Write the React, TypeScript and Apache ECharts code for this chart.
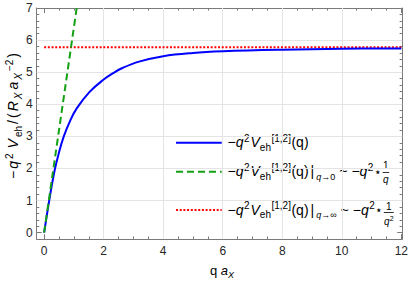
import React, { useEffect, useRef } from "react";
import * as echarts from "echarts";

// ---- data ----
const blueQ = [0, 0.17, 0.35, 0.49, 0.66, 0.88, 1.1, 1.52, 2.0, 2.32, 2.63, 3.19, 4.0, 5.0, 6.0, 8.0, 10.0, 12.0];
const blueV = [0, 1.0, 1.93, 2.47, 3.0, 3.5, 3.88, 4.38, 4.77, 4.97, 5.13, 5.33, 5.5, 5.6, 5.65, 5.7, 5.73, 5.74];
const greenQ = [0, 1.094];
const greenV = [0, 7];
const redQ = [0, 12];
const redV = [5.78, 5.78];
const xTicks = [0, 2, 4, 6, 8, 10, 12];
const yTicks = [0, 1, 2, 3, 4, 5, 6, 7];
const xGrid = [2, 4, 6, 8, 10];
const yGrid = [1, 2, 3, 4, 5, 6];

const XMIN = -0.25;
const XMAX = 12.03;
const YMIN = -0.2;
const YMAX = 7;

const FONT = '"Liberation Sans", Arial, sans-serif';
const FRAME = "#7a7a7a";
const LABEL = "#262626";
const BLUE = "#0000ff";
const GREEN = "#13a013";
const RED = "#ff0000";

const xMinor: number[] = [];
for (let i = 0; i < xTicks.length - 1; i++) {
  for (let k = 1; k < 4; k++) xMinor.push(xTicks[i] + (k * (xTicks[i + 1] - xTicks[i])) / 4);
}
const yMinor: number[] = [];
for (let i = 0; i < yTicks.length - 1; i++) {
  for (let k = 1; k < 5; k++) yMinor.push(+(yTicks[i] + (k * (yTicks[i + 1] - yTicks[i])) / 5).toFixed(2));
}

let mctx: CanvasRenderingContext2D | null = null;
function measure(t: string, s: number, it?: boolean) {
  if (!mctx) mctx = document.createElement("canvas").getContext("2d");
  if (!mctx) return t.length * s * 0.55;
  mctx.font = `${it ? "italic " : ""}${s}px ${FONT}`;
  return mctx.measureText(t).width;
}

type Piece = { t: string; s: number; it?: boolean; dy?: number; gap?: number };

function textEl(x: number, y: number, p: Piece, color: string, rotation = 0) {
  return {
    type: "text",
    x,
    y,
    rotation,
    silent: true,
    style: {
      text: p.t,
      fontSize: p.s,
      fontFamily: FONT,
      fontStyle: p.it ? "italic" : "normal",
      fill: color,
      align: "left",
      verticalAlign: "middle",
    },
  };
}

function layout(pieces: Piece[], x0: number, base: number, color = "#000") {
  const els: any[] = [];
  let x = x0;
  for (const p of pieces) {
    x += p.gap || 0;
    els.push(textEl(x, base + (p.dy || 0) - 0.347 * p.s, p, color));
    x += measure(p.t, p.s, p.it);
  }
  return { els, end: x, width: x - x0 };
}

function piecesWidth(pieces: Piece[]) {
  return pieces.reduce((a, p) => a + (p.gap || 0) + measure(p.t, p.s, p.it), 0);
}

// vertical text reading bottom-to-top, centred on (bx, cy); bx is the baseline's screen x
function layoutVertical(pieces: Piece[], bx: number, cy: number, length: number, color = "#000") {
  const natural = piecesWidth(pieces);
  const extra = pieces.length > 1 ? Math.max(0, length - natural) / (pieces.length - 1) : 0;
  const els: any[] = [];
  let lx = -Math.max(natural, length) / 2;
  pieces.forEach((p, i) => {
    if (i > 0) lx += extra;
    lx += p.gap || 0;
    const ly = (p.dy || 0) - 0.347 * p.s;
    els.push(textEl(bx + ly, cy - lx, p, color, Math.PI / 2));
    lx += measure(p.t, p.s, p.it);
  });
  return els;
}

function fraction(cx: number, numBase: number, bar: number, denBase: number, den: Piece[], barW: number) {
  const els: any[] = [];
  els.push({
    type: "text",
    x: cx,
    y: numBase - 0.347 * 10,
    silent: true,
    style: { text: "1", fontSize: 10, fontFamily: FONT, fill: "#000", align: "center", verticalAlign: "middle" },
  });
  els.push({
    type: "line",
    silent: true,
    shape: { x1: cx - barW / 2, y1: bar, x2: cx + barW / 2, y2: bar },
    style: { stroke: "#000", lineWidth: 0.8 },
  });
  const w = piecesWidth(den);
  els.push(...layout(den, cx - w / 2, denBase).els);
  return els;
}

const S = 14;
const s = 10;
const SUP = -5.5;
const SUB = 3.5;

const mainExpr: Piece[] = [
  { t: "−", s: S },
  { t: "q", s: S, it: true },
  { t: "2", s: s, dy: SUP, gap: 0.5 },
  { t: "V", s: S, it: true, gap: 1 },
  { t: "eh", s: s, dy: SUB },
  { t: "[1,2]", s: s, dy: SUP, gap: 0.5 },
  { t: "(q)", s: S, gap: 0.5 },
];

function limitRow(lim: string): Piece[] {
  return [
    ...mainExpr,
    { t: "|", s: S, gap: 2 },
    { t: "q", s: 9, it: true, dy: 4, gap: 2 },
    { t: lim, s: 9, dy: 4 },
    { t: "~", s: S, gap: 4 },
    { t: "−", s: S, gap: 4 },
    { t: "q", s: S, it: true },
    { t: "2", s: s, dy: SUP, gap: 0.5 },
    { t: "⋆", s: 12, gap: 0.5, dy: -0.5 },
  ];
}

const LEG_X0 = 176;
const LEG_X1 = 221.7;
const TXT_X = 227.5;
const ROW_Y = [142.7, 171.7, 210];

function buildGraphics() {
  const g: any[] = [];
  const sample = (y: number, stroke: string, dash: any) => ({
    type: "line",
    silent: true,
    shape: { x1: LEG_X0, y1: y, x2: LEG_X1, y2: y },
    style: { stroke, lineWidth: 2, lineDash: dash },
  });
  g.push(sample(ROW_Y[0], BLUE, null));
  g.push(sample(ROW_Y[1], GREEN, [7, 4]));
  g.push(sample(ROW_Y[2], RED, [2, 1.7]));

  g.push(...layout(mainExpr, TXT_X, ROW_Y[0] + 4.5).els);
  const r2 = layout(limitRow("→0"), TXT_X, ROW_Y[1] + 4.5);
  g.push(...r2.els);
  const c2 = r2.end + 4;
  g.push(...fraction(c2, ROW_Y[1] - 2.5, ROW_Y[1] + 0.8, ROW_Y[1] + 11, [{ t: "q", s: 10, it: true }], 6.5));
  const r3 = layout(limitRow("→∞"), TXT_X, ROW_Y[2] + 4.5);
  g.push(...r3.els);
  const c3 = r3.end + 5.5;
  g.push(
    ...fraction(c3, ROW_Y[2] - 0.5, ROW_Y[2] + 2.5, ROW_Y[2] + 14.5, [
      { t: "q", s: 10, it: true },
      { t: "2", s: 7, dy: -4 },
    ], 10)
  );

  // x axis title
  const xt: Piece[] = [
    { t: "q", s: 13 },
    { t: "a", s: 13, it: true, gap: 3.5 },
    { t: "X", s: 9, it: true, dy: 3 },
  ];
  const xw = piecesWidth(xt);
  g.push(...layout(xt, 222 - xw / 2, 275.5).els);

  // y axis title (vertical, bottom-to-top)
  const yt: Piece[] = [
    { t: "−", s: 14 },
    { t: "q", s: 14, it: true },
    { t: "2", s: 10, dy: -5.5 },
    { t: "V", s: 14, it: true, gap: 3 },
    { t: "eh", s: 10, dy: 3.5 },
    { t: "/", s: 14 },
    { t: "(", s: 14 },
    { t: "R", s: 14, it: true },
    { t: "X", s: 10, it: true, dy: 3.5 },
    { t: "a", s: 14, it: true, gap: 1 },
    { t: "X", s: 10, it: true, dy: 3.5 },
    { t: "−2", s: 10, dy: -5.5 },
    { t: ")", s: 14 },
  ];
  g.push(...layoutVertical(yt, 18, 116, 126));
  return g;
}

function zip(a: number[], b: number[]) {
  return a.map((v, i) => [v, b[i]]);
}

export default function App() {
  const ref = useRef<HTMLDivElement>(null);
  useEffect(() => {
    if (!ref.current) return;
    const chart = echarts.init(ref.current, undefined, { renderer: "svg" });
    const noSplit = { splitLine: { show: false }, minorTick: { show: false }, minorSplitLine: { show: false } };
    const line = (show: boolean) => ({ show, onZero: false, lineStyle: { color: FRAME, width: 1 } });
    const tick = (vals: number[], len: number) => ({
      show: true,
      inside: true,
      length: len,
      customValues: vals,
      lineStyle: { color: FRAME, width: 1 },
    });
    const xAx = (pos: string, showLine: boolean, vals: number[], len: number, labels: boolean) => ({
      type: "value",
      gridIndex: 0,
      min: XMIN,
      max: XMAX,
      position: pos,
      axisLine: line(showLine),
      axisTick: tick(vals, len),
      axisLabel: labels
        ? { show: true, customValues: xTicks, margin: 6, fontSize: 12, color: LABEL, fontFamily: FONT }
        : { show: false },
      ...noSplit,
    });
    const yAx = (pos: string, showLine: boolean, vals: number[], len: number, labels: boolean) => ({
      type: "value",
      gridIndex: 0,
      min: YMIN,
      max: YMAX,
      position: pos,
      axisLine: line(showLine),
      axisTick: tick(vals, len),
      axisLabel: labels
        ? { show: true, customValues: yTicks, margin: 4, fontSize: 12, color: LABEL, fontFamily: FONT }
        : { show: false },
      ...noSplit,
    });
    const option: any = {
      animation: false,
      backgroundColor: "#ffffff",
      grid: { left: 36.7, right: 5.9, top: 8, bottom: 44.9, containLabel: false },
      xAxis: [
        xAx("bottom", true, xTicks, 5, true),
        xAx("bottom", false, xMinor, 2.6, false),
        xAx("top", true, xTicks, 5, false),
        xAx("top", false, xMinor, 2.6, false),
      ],
      yAxis: [
        yAx("left", true, yTicks, 5, true),
        yAx("left", false, yMinor, 2.6, false),
        yAx("right", true, yTicks, 5, false),
        yAx("right", false, yMinor, 2.6, false),
      ],
      series: [
        {
          type: "line",
          xAxisIndex: 0,
          yAxisIndex: 0,
          data: [],
          z: 1,
          silent: true,
          markLine: {
            z: 1,
            silent: true,
            symbol: ["none", "none"],
            label: { show: false },
            emphasis: { disabled: true },
            lineStyle: { color: "#e4e4e4", width: 1, type: "solid" },
            data: [...xGrid.map((v) => ({ xAxis: v })), ...yGrid.map((v) => ({ yAxis: v }))],
          },
        },
        {
          type: "line",
          xAxisIndex: 0,
          yAxisIndex: 0,
          data: zip(redQ, redV),
          showSymbol: false,
          z: 6,
          lineStyle: { color: RED, width: 2, type: [2, 1.7], cap: "butt" },
        },
        {
          type: "line",
          xAxisIndex: 0,
          yAxisIndex: 0,
          data: zip(blueQ, blueV),
          smooth: 0.4,
          showSymbol: false,
          z: 7,
          lineStyle: { color: BLUE, width: 2 },
        },
        {
          type: "line",
          xAxisIndex: 0,
          yAxisIndex: 0,
          data: zip(greenQ, greenV),
          showSymbol: false,
          z: 8,
          lineStyle: { color: GREEN, width: 2, type: [7, 4] },
        },
      ],
      graphic: buildGraphics(),
    };
    chart.setOption(option);
    return () => chart.dispose();
  }, []);
  return (
    <div
      ref={ref}
      style={{ position: "absolute", left: 0, top: 0, width: 411, height: 284, background: "#fff" }}
    />
  );
}
